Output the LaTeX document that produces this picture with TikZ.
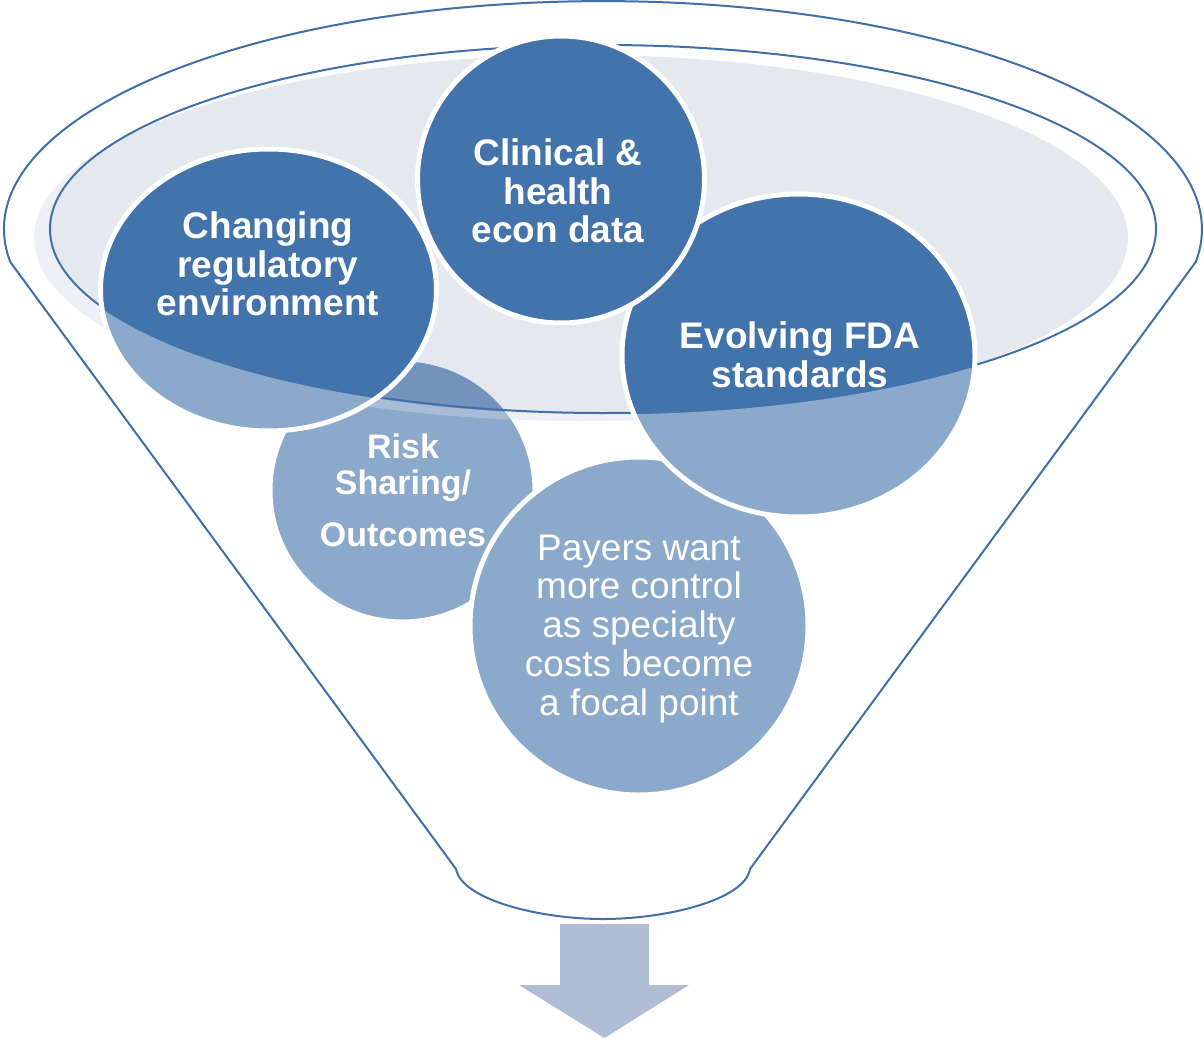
\documentclass[tikz,border=0pt]{standalone}
\usepackage{fontspec}
\setmainfont{Liberation Sans}
\definecolor{dkblue}{RGB}{66,115,170}
\definecolor{lnblue}{RGB}{64,112,170}
\definecolor{rimgray}{RGB}{190,197,215}
\definecolor{arrowc}{RGB}{176,189,213}
\tikzset{
  bubble/.style={draw=white, line width=5pt, fill=dkblue},
  rim/.style={draw=lnblue, line width=2pt},
  btxt/.style={text=white, inner sep=0pt, align=center, font=\bfseries\fontsize{37}{38.5}\selectfont},
  rtxt/.style={text=white, inner sep=0pt, align=center, font=\bfseries\fontsize{34}{36}\selectfont},
  ptxt/.style={text=white, inner sep=0pt, align=center, font=\fontsize{37}{38.9}\selectfont},
  arrowshape/.style={fill=arrowc, draw=none}
}
\begin{document}
\begin{tikzpicture}[x=1pt,y=-1pt]
\useasboundingbox (0,0) rectangle (1204,1038);
\def\funnelpath{(10.3,262) arc[start angle=171.7, end angle=368.3, x radius=599, y radius=228] -- (750,869) .. controls (745,900) and (666,919) .. (603,919) .. controls (540,919) and (462,900) .. (456,869) -- cycle}
% Risk circle (behind the rim)
\path[bubble] (402.5,490.5) ellipse [x radius=132.5, y radius=131.5];
% gray rim surface
\fill[rimgray, fill opacity=0.4] (581,238) ellipse [x radius=547, y radius=183];
% inner rim line
\draw[rim] (603,229) ellipse [x radius=553, y radius=184];
% Changing
\path[bubble] (268.5,290) ellipse [x radius=168, y radius=141];
% Payers
\path[bubble] (639,626) circle [radius=169];
% Evolving
\path[bubble] (798.5,355.5) ellipse [x radius=176.5, y radius=161.5];
% front funnel body: translucent white
\fill[white, fill opacity=0.39, even odd rule] \funnelpath (603,229) ellipse [x radius=554.5, y radius=185.5];
% Clinical
\path[bubble] (561,179.5) circle [radius=143.5];
% funnel outline
\draw[rim] \funnelpath;
% texts
\node[btxt] (changing) at (268,264) {Changing\\regulatory\\environment};
\node[btxt] (clinical) at (558,191) {Clinical \&\\health\\econ data};
\node[btxt] (evolving) at (800,355) {Evolving FDA\\standards};
\node[rtxt] (risk) at (403,490) {Risk\\Sharing/\\[16pt]Outcomes};
\node[ptxt] (payers) at (639,629) {Payers want\\more control\\as specialty\\costs become\\a focal point};
% output arrow
\fill[arrowshape] (560,924) -- (649,924) -- (649,985) -- (689,985) -- (604.5,1038) -- (519,985) -- (560,985) -- cycle;
\end{tikzpicture}
\end{document}
